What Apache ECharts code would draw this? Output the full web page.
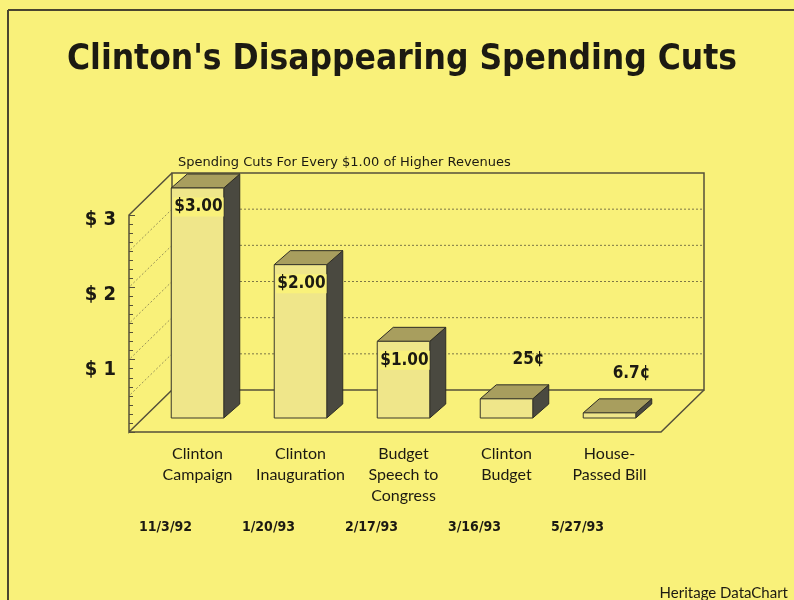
<!DOCTYPE html>
<html>
<head>
<meta charset="utf-8">
<script src="https://cdn.jsdelivr.net/npm/echarts@6/dist/echarts.min.js"></script>
<style>
html, body { margin: 0; padding: 0; background: #f9f17a; }
#chart { width: 794px; height: 600px; }
</style>
</head>
<body>
<div id="chart"></div>
<script>
var categories = ['Clinton\nCampaign', 'Clinton\nInauguration', 'Budget\nSpeech to\nCongress', 'Clinton\nBudget', 'House-\nPassed Bill'];
var dates = ['11/3/92', '1/20/93', '2/17/93', '3/16/93', '5/27/93'];
var cuts = [3.00, 2.00, 1.00, 0.25, 0.067];
var cutLabels = ['$3.00', '$2.00', '$1.00', '25¢', '6.7¢'];
var dollarTicks = [1, 2, 3];
var wallLines = [0.5, 1, 1.5, 2, 2.5];

var bg = '#f9f17a';
var ink = '#1c1a12';
var edge = '#55503a';

// back wall, left wall, floor and the dotted lines on the walls
function renderBox(params, api) {
    var cs = params.coordSys;
    var L = cs.x, T = cs.y, R = cs.x + cs.width, B = cs.y + cs.height;
    var dx = -43, dy = 42;
    var solid = { stroke: edge, lineWidth: 1.5, fill: null };
    var kids = [];
    wallLines.forEach(function (v) {
        var p = api.coord([0, v]);
        kids.push({ type: 'line', shape: { x1: L, y1: p[1], x2: R, y2: p[1] },
            style: { stroke: '#7d7746', lineWidth: 1, lineDash: [2, 2] } });
        kids.push({ type: 'line', shape: { x1: L, y1: p[1], x2: L + dx, y2: p[1] + dy },
            style: { stroke: '#9a945a', lineWidth: 1, lineDash: [2, 2] } });
    });
    kids.push({ type: 'polyline', shape: { points: [[L, B], [L, T], [R, T], [R, B], [L, B]] }, style: solid });
    kids.push({ type: 'polyline', shape: { points: [[L, T], [L + dx, T + dy], [L + dx, B + dy], [L, B]] }, style: solid });
    kids.push({ type: 'polyline', shape: { points: [[L + dx, B + dy], [R + dx, B + dy], [R, B]] }, style: solid });
    return { type: 'group', children: kids };
}

function renderBar(params, api) {
    var i = api.value(0), v = api.value(1);
    var top = api.coord([i, v]);
    var base = api.coord([i, 0]);
    var w = api.size([1, 0])[0] * 0.51;
    var x0 = top[0] - w / 2, x1 = top[0] + w / 2, yT = top[1], yB = base[1];
    var dx = 16, dy = -14;
    var kids = [
        { type: 'polygon', shape: { points: [[x1, yT], [x1 + dx, yT + dy], [x1 + dx, yB + dy], [x1, yB]] },
            style: { fill: '#4a4940', stroke: '#2e2d25', lineWidth: 1 } },
        { type: 'polygon', shape: { points: [[x0, yT], [x1, yT], [x1 + dx, yT + dy], [x0 + dx, yT + dy]] },
            style: { fill: '#a89e5e', stroke: '#2e2d25', lineWidth: 1 } },
        { type: 'rect', shape: { x: x0, y: yT, width: w, height: yB - yT },
            style: { fill: '#efe68a', stroke: '#3a382c', lineWidth: 1 } }
    ];
    var txt = cutLabels[params.dataIndex];
    if (yB - yT > 40) {
        kids.push({ type: 'text', x: x0 + 2, y: yT + 19,
            style: { text: txt, font: 'bold 17px "DejaVu Sans Condensed"', fill: ink,
                align: 'left', verticalAlign: 'middle', backgroundColor: bg, padding: [1, 1] } });
    } else {
        kids.push({ type: 'text', x: top[0] + dx + 6, y: yT + dy - 25,
            style: { text: txt, font: 'bold 17px "DejaVu Sans Condensed"', fill: ink,
                align: 'center', verticalAlign: 'middle' } });
    }
    return { type: 'group', children: kids };
}

var chart = echarts.init(document.getElementById('chart'));
var hidden = { show: false };
var option = {
    backgroundColor: bg,
    animation: false,
    title: [
        { text: "Clinton's Disappearing Spending Cuts", left: 62, top: 37,
            textStyle: { fontFamily: 'DejaVu Sans Condensed', fontWeight: 'bold', fontSize: 35, color: ink } },
        { text: 'Spending Cuts For Every $1.00 of Higher Revenues', left: 173, top: 151,
            textStyle: { fontFamily: 'DejaVu Sans', fontWeight: 'normal', fontSize: 13, color: ink } },
        { text: 'Heritage DataChart', right: 1, top: 581,
            textStyle: { fontFamily: 'Lato', fontWeight: 'normal', fontSize: 15, color: ink } }
    ],
    graphic: [
        { type: 'line', shape: { x1: 8, y1: 10, x2: 794, y2: 10 }, style: { stroke: '#4a4530', lineWidth: 2 } },
        { type: 'line', shape: { x1: 8, y1: 10, x2: 8, y2: 600 }, style: { stroke: '#4a4530', lineWidth: 2 } }
    ],
    grid: [
        { left: 146, right: 133, top: 188, bottom: 182 },   // bars
        { left: 172, right: 90, top: 173, bottom: 210 },    // back wall
        { left: 129, width: 43, top: 215, bottom: 168 },    // left wall ticks
        { left: 128, width: 10, top: 220, bottom: 155 },    // dollar labels
        { left: 114, right: 165, top: 500, height: 10 }     // dates
    ],
    xAxis: [
        { gridIndex: 0, type: 'category', data: categories, axisLine: hidden, axisTick: hidden,
            axisLabel: { margin: 25, fontFamily: 'Lato', fontSize: 16, lineHeight: 21, color: ink, interval: 0 } },
        { gridIndex: 1, type: 'value', min: 0, max: 1, show: false },
        { gridIndex: 2, type: 'value', min: 0, max: 1, show: false },
        { gridIndex: 3, type: 'value', min: 0, max: 1, show: false },
        { gridIndex: 4, type: 'category', data: dates, axisLine: hidden, axisTick: hidden,
            axisLabel: { margin: 10, fontFamily: 'DejaVu Sans Condensed', fontWeight: 'bold', fontSize: 14, color: ink, interval: 0 } }
    ],
    yAxis: [
        { gridIndex: 0, type: 'value', min: 0, max: 3, show: false },
        { gridIndex: 1, type: 'value', min: 0, max: 3, show: false },
        { gridIndex: 2, type: 'value', min: 0, max: 3, interval: 1,
            axisLine: hidden, splitLine: hidden, axisLabel: hidden,
            axisTick: { show: true, inside: true, length: 6, lineStyle: { color: edge } },
            minorTick: { show: true, splitNumber: 8, length: 4, lineStyle: { color: edge } } },
        { gridIndex: 3, type: 'value', min: 0, max: 3, interval: 1,
            axisLine: hidden, splitLine: hidden, axisTick: hidden,
            axisLabel: { margin: 12, fontFamily: 'DejaVu Sans Condensed', fontWeight: 'bold', fontSize: 20, color: ink,
                formatter: function (v) { return dollarTicks.indexOf(v) >= 0 ? '$ ' + v : ''; } } },
        { gridIndex: 4, type: 'value', show: false }
    ],
    series: [
        { type: 'custom', xAxisIndex: 1, yAxisIndex: 1, data: [[0, 0]], renderItem: renderBox, silent: true, z: 1 },
        { type: 'custom', xAxisIndex: 0, yAxisIndex: 0, z: 2,
            data: cuts.map(function (v, i) { return [i, v]; }),
            encode: { x: 0, y: 1 }, renderItem: renderBar }
    ]
};
chart.setOption(option);
</script>
</body>
</html>
